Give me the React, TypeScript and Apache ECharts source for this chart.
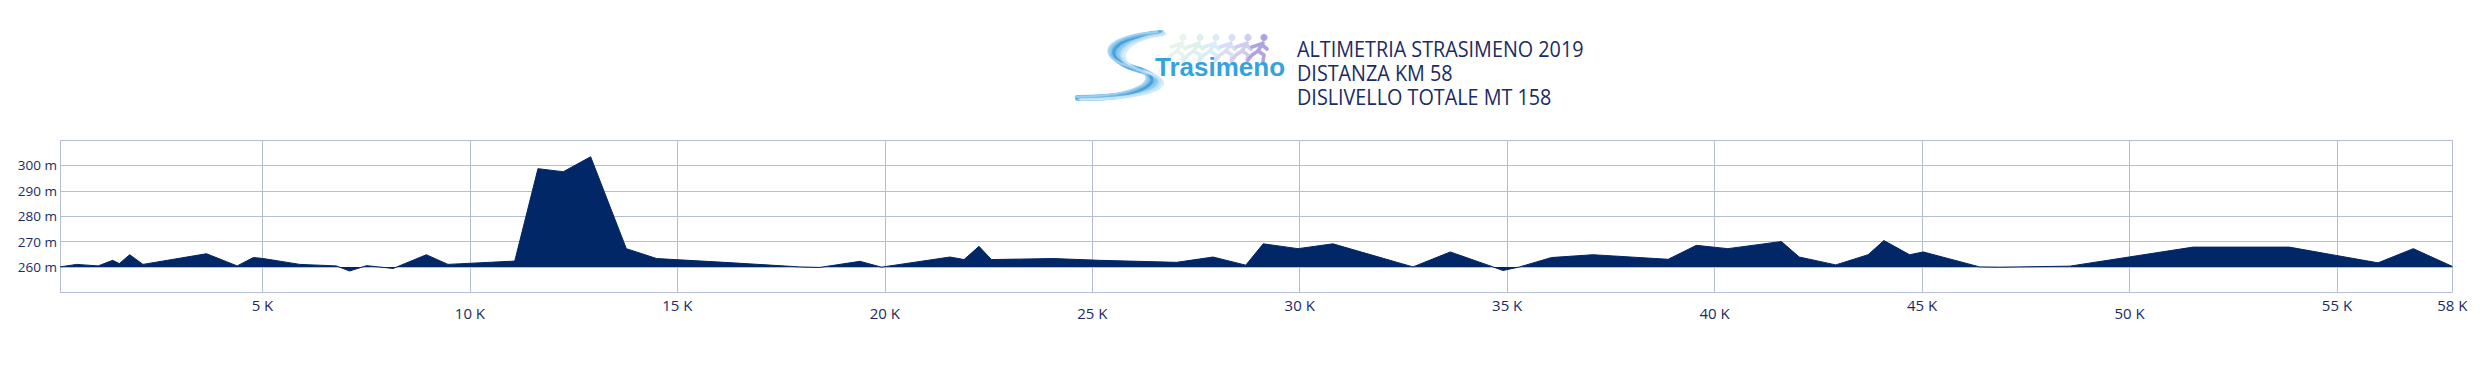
import React, { useEffect, useRef } from "react";
import * as echarts from "echarts";

const DIST_KM = [
  0.12, 0.52, 1.04, 1.39, 1.55, 1.8, 2.12, 3.65, 4.39, 4.78, 5.02, 5.9, 6.78, 7.1, 7.51, 8.15,
  8.95, 9.47, 11.08, 11.64, 12.25, 12.91, 13.77, 14.5, 16.34, 17.95, 18.43, 19.4, 19.92, 21.57,
  21.91, 22.27, 22.57, 24.06, 25.18, 27.03, 27.91, 28.7, 29.12, 29.96, 30.8, 32.73, 33.63, 34.66,
  34.9, 35.3, 36.07, 37.07, 38.88, 39.56, 40.32, 41.61, 42.04, 42.92, 43.7, 44.08, 44.7, 45.03,
  46.39, 46.87, 48.56, 51.53, 53.85, 55.99, 56.84, 57.78,
];
const ELEV_M = [
  260, 261, 260.4, 262.6, 261.3, 264.8, 261, 265.2, 260.4, 263.7, 263.3, 261, 260.4, 258.4, 260.5, 259.4,
  264.8, 261, 262.3, 298.7, 297.5, 303.4, 267.2, 263.3, 261.6, 260, 259.8, 262.2, 259.9, 263.9,
  262.9, 268.1, 262.9, 263.3, 262.6, 261.8, 263.9, 260.7, 269.1, 267.2, 269.1, 260, 265.9, 260,
  258.6, 260, 263.7, 264.8, 263, 268.5, 267.2, 270, 263.9, 260.8, 264.8, 270.4, 264.8, 265.9,
  260, 259.9, 260.3, 267.8, 267.8, 261.6, 267.2, 260.2,
];
const X_TICKS = [0.12, 5, 10, 15, 20, 25, 30, 35, 40, 45, 50, 55, 57.78];
const X_LABEL_VALUES = [5, 10, 15, 20, 25, 30, 35, 40, 45, 50, 55, 57.78];
const X_LOW_LABELS = [10, 20, 25, 40, 50];
const Y_LABELS = [260, 270, 280, 290, 300];
const TITLE_LINES = ["ALTIMETRIA STRASIMENO 2019", "DISTANZA KM 58", "DISLIVELLO TOTALE MT 158"];
const RUNNER_COLORS = ["#e6f4ec", "#dcf1ee", "#d9edf6", "#d8def5", "#cfcdf0", "#b0a4de"];

const NAVY = "#022766";
const TEXT = "#1b2b63";
const GRID = "#b4bdd4";

function runner(x: number, y: number, color: string) {
  const st = { stroke: color, lineWidth: 3.6, lineCap: "round", lineJoin: "round", fill: "none" };
  return {
    type: "group",
    children: [
      { type: "circle", shape: { cx: x + 5, cy: y + 3.5, r: 3.6 }, style: { fill: color } },
      { type: "line", shape: { x1: x + 4, y1: y + 9, x2: x - 1, y2: y + 17 }, style: st },
      { type: "polyline", shape: { points: [[x - 1, y + 17], [x - 7, y + 21], [x - 11, y + 26]] }, style: st },
      { type: "polyline", shape: { points: [[x - 1, y + 17], [x + 5, y + 21], [x + 4, y + 27]] }, style: st },
      { type: "polyline", shape: { points: [[x - 7, y + 13], [x + 2, y + 10], [x + 8, y + 15]] }, style: st },
    ],
  };
}

function swoosh() {
  const strokes = [
    { dx: 0, dy: 0, w: 6, c: "#5fb3e4" },
    { dx: 3, dy: 1, w: 4, c: "#8fcbee" },
    { dx: -3, dy: -1, w: 4, c: "#3f9bd5" },
    { dx: 6, dy: 2, w: 3, c: "#b7dff4" },
    { dx: -6, dy: -2, w: 3, c: "#7bbfe8" },
    { dx: 9, dy: 3, w: 2, c: "#cde9f8" },
    { dx: -8, dy: -3, w: 2, c: "#a3d4f1" },
  ];
  const out: any[] = [];
  strokes.forEach((s) => {
    out.push({
      type: "bezierCurve",
      shape: { x1: 1161 + s.dx * 0.5, y1: 33 + s.dy * 0.3, cpx1: 1112 + s.dx, cpy1: 38 + s.dy, cpx2: 1100 + s.dx, cpy2: 60 + s.dy, x2: 1140 + s.dx, y2: 70 + s.dy },
      style: { stroke: s.c, lineWidth: s.w, fill: "none", opacity: 0.85, lineCap: "round" },
    });
    out.push({
      type: "bezierCurve",
      shape: { x1: 1140 + s.dx, y1: 70 + s.dy, cpx1: 1172 + s.dx, cpy1: 80 + s.dy, cpx2: 1150 + s.dx, cpy2: 98 + s.dy * 0.5, x2: 1078 + s.dx * 0.3, y2: 98 + s.dy * 0.5 },
      style: { stroke: s.c, lineWidth: s.w, fill: "none", opacity: 0.85, lineCap: "round" },
    });
  });
  return out;
}

export default function App() {
  const ref = useRef<HTMLDivElement>(null);
  useEffect(() => {
    if (!ref.current) return;
    const chart = echarts.init(ref.current, undefined, { renderer: "svg" });
    const data = DIST_KM.map((d, i) => [d, ELEV_M[i]]);
    const runnerXs = [1178, 1195, 1211, 1227, 1243, 1259];
    chart.setOption({
      animation: false,
      backgroundColor: "#ffffff",
      grid: { left: 60, right: 36.7, top: 140, bottom: 74.7, containLabel: false, outerBoundsMode: "none" },
      xAxis: {
        type: "value",
        min: X_TICKS[0],
        max: X_TICKS[X_TICKS.length - 1],
        axisLine: { show: false },
        axisTick: { show: false, customValues: X_TICKS },
        splitLine: { show: true, lineStyle: { color: GRID, width: 1 } },
        axisLabel: {
          customValues: X_LABEL_VALUES,
          margin: 5,
          fontFamily: "Open Sans",
          fontSize: 15,
          color: TEXT,
          formatter: (v: number) => {
            const k = Math.round(v);
            return X_LOW_LABELS.indexOf(k) >= 0 ? `{lo|${k} K}` : `{hi|${k} K}`;
          },
          rich: {
            hi: { fontFamily: "Open Sans", fontSize: 15, color: TEXT },
            lo: { fontFamily: "Open Sans", fontSize: 15, color: TEXT, padding: [8, 0, 0, 0] },
          },
        },
      },
      yAxis: {
        type: "value",
        min: 250,
        max: 310,
        interval: 10,
        axisLine: { show: false },
        axisTick: { show: false },
        splitLine: { show: true, lineStyle: { color: GRID, width: 1 } },
        axisLabel: {
          margin: 3,
          fontFamily: "Open Sans",
          fontSize: 13.5,
          color: TEXT,
          formatter: (v: number) => (Y_LABELS.indexOf(v) >= 0 ? `${v} m` : ""),
        },
      },
      series: [
        {
          type: "line",
          data,
          symbol: "none",
          color: NAVY,
          lineStyle: { color: NAVY, width: 1 },
          areaStyle: { color: NAVY, opacity: 1, origin: 260 },
        },
      ],
      graphic: [
        ...swoosh(),
        ...runnerXs.map((x, i) => runner(x, 34, RUNNER_COLORS[i])),
        {
          type: "text",
          x: 1155,
          y: 67,
          style: {
            text: "Trasimeno",
            fontFamily: "Liberation Sans",
            fontWeight: "bold",
            fontSize: 26,
            fill: "#35a2dd",
            verticalAlign: "middle",
          },
        },
        ...TITLE_LINES.map((t, i) => ({
          type: "text",
          x: 1297,
          y: 49 + i * 24,
          scaleX: 0.9,
          style: {
            text: t,
            fontFamily: "Open Sans",
            fontSize: 22,
            fill: TEXT,
            verticalAlign: "middle",
          },
        })),
      ],
    });
    return () => chart.dispose();
  }, []);
  return <div ref={ref} style={{ position: "fixed", left: 0, top: 0, width: 2489, height: 367 }} />;
}
